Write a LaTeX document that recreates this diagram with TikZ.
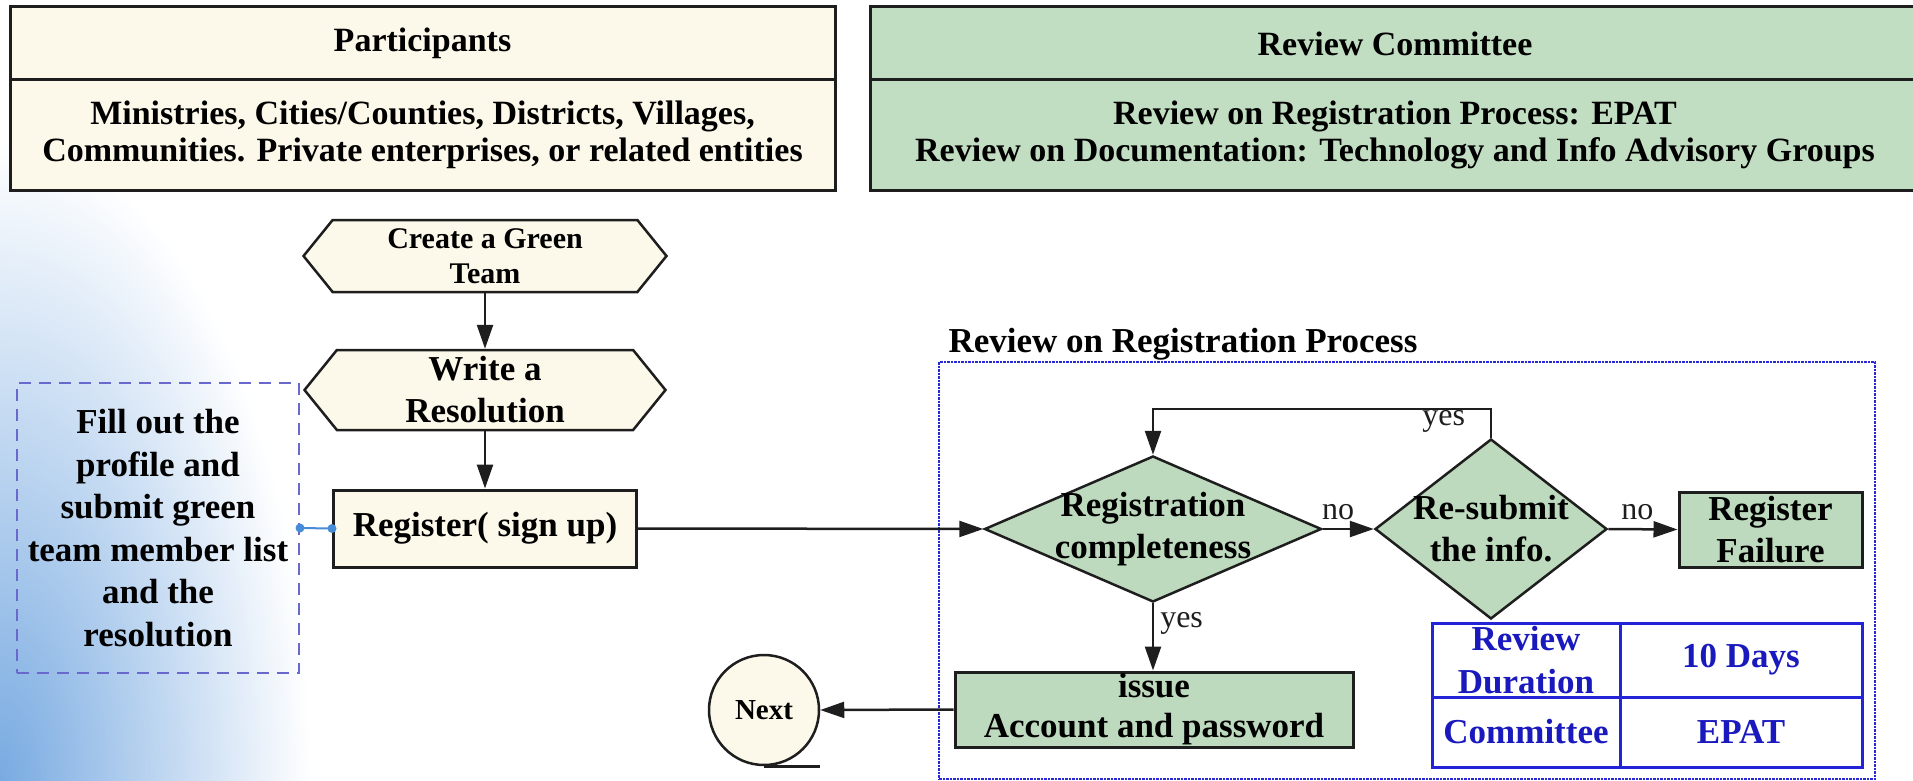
\documentclass[tikz,border=0pt]{standalone}
\usepackage{fontspec}
\setmainfont{Liberation Serif}
\usetikzlibrary{shapes.geometric,shapes.symbols,arrows.meta,fadings}
\definecolor{cream}{RGB}{252,249,234}
\definecolor{sage}{RGB}{190,218,190}
\definecolor{hdrgreen}{RGB}{194,222,194}
\definecolor{tblblue}{RGB}{35,35,215}
\definecolor{txtblue}{RGB}{25,25,190}
\definecolor{dashblue}{RGB}{105,105,205}
\definecolor{dotblue}{RGB}{40,40,215}
\definecolor{dotc}{RGB}{70,140,215}
\definecolor{bgblue}{RGB}{120,170,225}
\definecolor{ink}{RGB}{30,30,30}
\tikzfading[name=glow, inner color=transparent!0, outer color=transparent!100]
\begin{document}
\begin{tikzpicture}[x=1pt,y=-1pt,
  hdr/.style={draw=ink, line width=3pt, inner sep=0pt, align=center, font=\fontsize{34}{37}\selectfont\bfseries},
  box/.style={draw=ink, line width=3pt, inner sep=0pt, align=center, font=\fontsize{35}{42}\selectfont\bfseries},
  ctl/.style={inner sep=0pt, align=center, text=black, font=\fontsize{35}{42}\selectfont\bfseries},
  ctsl/.style={inner sep=0pt, align=center, text=black, font=\fontsize{30}{35}\selectfont\bfseries},
  ctbl/.style={inner sep=0pt, align=center, text=txtblue, font=\fontsize{35}{43}\selectfont\bfseries},
  ct/.style={label={[ctl]center:{#1}}},
  cts/.style={label={[ctsl]center:{#1}}},
  ctb/.style={label={[ctbl]center:{#1}}},
  hexa/.style={shape=signal, signal to=east and west, signal pointer angle=102, draw=ink, fill=cream, line width=2.5pt, inner sep=0pt},
  dia/.style={shape=diamond, draw=ink, fill=sage, line width=2.5pt, inner sep=0pt},
  cell/.style={draw=tblblue, line width=3pt, fill=white, inner sep=0pt},
  arr/.style={draw=ink, line width=2.5pt, -{Triangle[length=24pt,width=16pt]}},
  lbltxt/.style={inner sep=0pt, text=ink, font=\fontsize{32}{36}\selectfont},
]
\useasboundingbox (0,0) rectangle (1913,781);
\clip (0,0) rectangle (1913,781);
% background glow
\fill[bgblue, path fading=glow] (0,781) ellipse [x radius=310, y radius=640];

% header boxes
\node[hdr, fill=cream, minimum width=825, minimum height=73] (ptitle) at (422.5,43.5) {Participants};
\node[hdr, fill=cream, minimum width=825, minimum height=110] (pbody) at (422.5,135) {Ministries, Cities/Counties, Districts, Villages,\\Communities. Private enterprises, or related entities};
\node[hdr, fill=hdrgreen, minimum width=1050, minimum height=73] (rtitle) at (1395,43.5) {Review Committee};
\node[hdr, fill=hdrgreen, minimum width=1050, minimum height=110] (rbody) at (1395,135) {Review on Registration Process: EPAT\\Review on Documentation: Technology and Info Advisory Groups};

% left flow
\node[hexa, minimum width=363, minimum height=72, cts={Create a Green\\Team}] (create) at (485,256) {};
\node[hexa, minimum width=361, minimum height=80, ct={Write a\\Resolution}] (write) at (485,390) {};
\node[box, fill=cream, minimum width=303, minimum height=77] (register) at (485,528.5) {Register( sign up)};
\node[draw=dashblue, line width=2pt, dash pattern=on 12pt off 8pt, inner sep=0pt, align=center,
      minimum width=282, minimum height=290, font=\fontsize{35}{42.5}\selectfont\bfseries] (fill) at (158,528)
      {Fill out the\\profile and\\submit green\\team member list\\and the\\resolution};
\node[draw=ink, line width=2.5pt, fill=cream, circle, minimum size=110, inner sep=0pt, font=\fontsize{29}{34}\selectfont\bfseries] (next) at (764,710) {Next};

% review region
\node[inner sep=0pt, font=\fontsize{35}{42}\selectfont\bfseries] (rrptitle) at (1183,344) {Review on Registration Process};
\node[draw=dotblue, line width=2.5pt, densely dotted, minimum width=936, minimum height=417, inner sep=0pt] (rrp) at (1407,570.5) {};
\node[dia, minimum width=337, minimum height=146, ct={Registration\\completeness}] (reg) at (1153,529) {};
\node[dia, minimum width=232, minimum height=180, ct={Re-submit\\the info.}] (resub) at (1491,529) {};
\node[draw=ink, line width=3pt, fill=sage, minimum width=183, minimum height=75, inner sep=0pt, ct={Register\\Failure}] (fail) at (1770.5,529.5) {};
\node[draw=ink, line width=3pt, fill=sage, minimum width=398, minimum height=75, inner sep=0pt, label={[ctl, font=\fontsize{35}{40}\selectfont\bfseries]center:{issue\\Account and password}}] (issue) at (1154,709.5) {};

% table
\node[cell, minimum width=188, minimum height=74, ctb={Review\\Duration}] (t11) at (1526,660) {};
\node[cell, minimum width=242, minimum height=74, ctb={10 Days}] (t12) at (1741,660) {};
\node[cell, minimum width=188, minimum height=70, ctb={Committee}] (t21) at (1526,732) {};
\node[cell, minimum width=242, minimum height=70, ctb={EPAT}] (t22) at (1741,732) {};

% connectors
\draw[arr] (create.south) -- (write.north);
\draw[arr] (write.south) -- (register.north);
\draw[dotc, line width=2pt] (fill.east) -- (register.west);
\fill[dotc] (fill.east) circle [radius=4.5];
\fill[dotc] (register.west) circle [radius=4.5];
\draw[arr] (register.east) -- (reg.west);
\draw[arr] (reg.east) -- node[above=8pt, pos=0.3, lbltxt]{no} (resub.west);
\draw[arr] (resub.east) -- node[above=8pt, pos=0.42, lbltxt]{no} (fail.west);
\draw[arr] (resub.north) -- ++(0,-29) -| node[pos=0.07, below, lbltxt]{yes} (reg.north);
\draw[arr] (reg.south) -- node[pos=0.3, right=6pt, lbltxt]{yes} (reg.south |- issue.north);
\draw[arr] (issue.west) -- (next.east);
\draw[ink, line width=2.5pt] (next.south) -- (next.south -| next.east);
\end{tikzpicture}
\end{document}
